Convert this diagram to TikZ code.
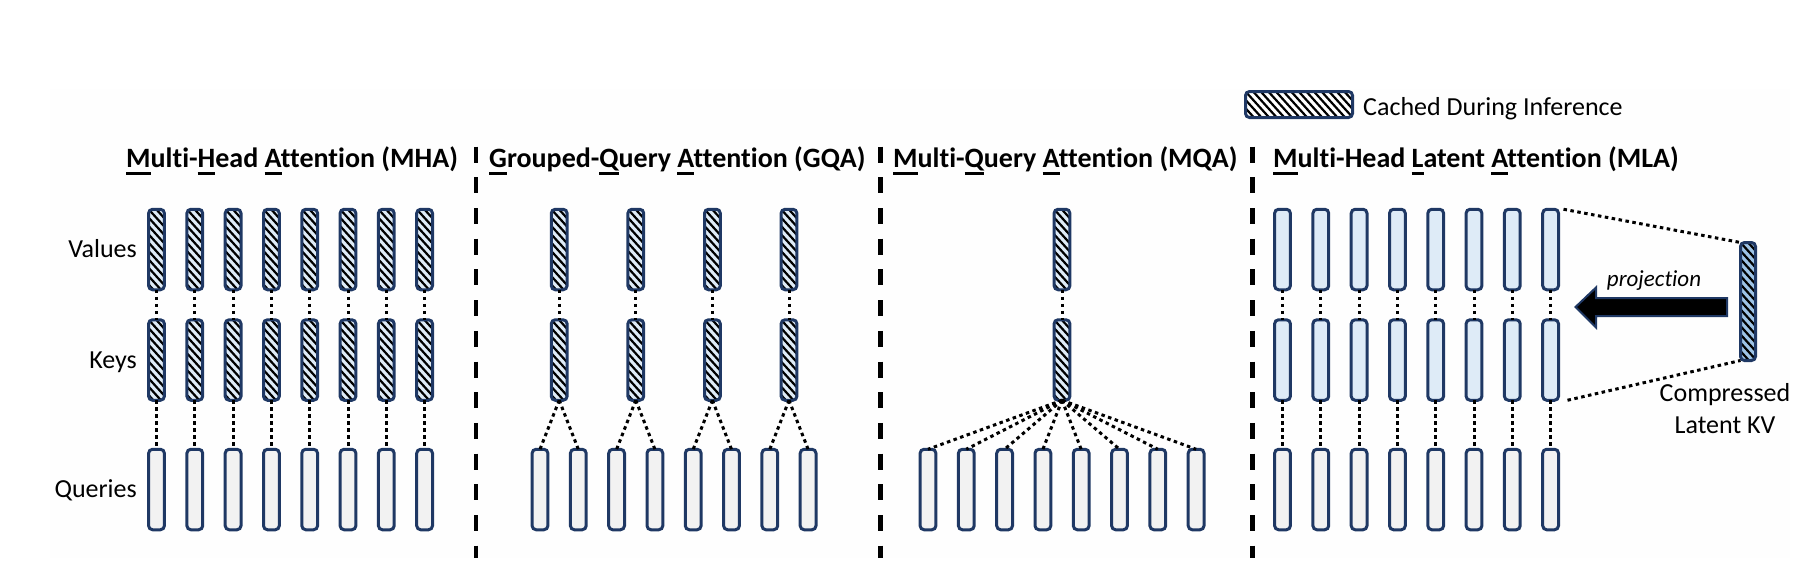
\documentclass[tikz,border=0pt]{standalone}
\usepackage{fontspec}
\setmainfont{Carlito}[Ligatures=NoCommon]
\usetikzlibrary{calc}
\definecolor{navy}{HTML}{1F3864}
\definecolor{kvfill}{HTML}{DEEBF7}
\definecolor{qfill}{HTML}{F2F2F2}
\definecolor{latfill}{HTML}{9DC3E6}
\definecolor{bgfill}{HTML}{FEFEFE}
\newcommand\ulchar[1]{\setbox0\hbox{#1}\rlap{\rule[-7.5pt]{\wd0}{2.3pt}}#1}
\begin{document}
\begin{tikzpicture}[x=1pt,y=-1pt,
  head/.style={draw=navy, line width=3pt, rounded corners=4pt, minimum width=15.8pt, minimum height=80.5pt, inner sep=0pt, outer sep=0pt},
  hatch/.style={path picture={\foreach \k in {-25,...,25}{\draw[black,line width=2.2pt] ([xshift={\k*7.6pt}]path picture bounding box.north west) -- ++(200pt,-220pt);}}},
  kvbox/.style={head, fill=kvfill},
  cached/.style={head, fill=kvfill, hatch},
  qbox/.style={head, fill=qfill},
  conn/.style={line width=3pt, dash pattern=on 3.5pt off 3.5pt},
  sep/.style={line width=4.5pt, dash pattern=on 16pt off 14.7pt},
  lbl/.style={font=\fontsize{26}{30}\selectfont, inner sep=0pt},
  ttl/.style={font=\fontsize{28}{32}\selectfont\bfseries, inner sep=0pt, anchor=base west},
]
\useasboundingbox (0,0) rectangle (1809,582);
\fill[bgfill] (50,89) rectangle (1790,558);

% separators
\draw[sep] (476,146.6) -- (476,558);
\draw[sep] (880.7,146.6) -- (880.7,558);
\draw[sep] (1252.7,146.6) -- (1252.7,558);

% titles
\node[ttl] (tmha) at (126,167) {\ulchar{M}ulti-\ulchar{H}ead \ulchar{A}ttention (MHA)};
\node[ttl] (tgqa) at (489,167) {\ulchar{G}rouped-\ulchar{Q}uery \ulchar{A}ttention (GQA)};
\node[ttl] (tmqa) at (893,167) {\ulchar{M}ulti-\ulchar{Q}uery \ulchar{A}ttention (MQA)};
\node[ttl] (tmla) at (1273,167) {\ulchar{M}ulti-Head \ulchar{L}atent \ulchar{A}ttention (MLA)};

% row labels
\node[lbl, anchor=base east] (lval) at (137,257.5) {Values};
\node[lbl, anchor=base east] (lkey) at (137,368) {Keys};
\node[lbl, anchor=base east] (lqry) at (137,497.5) {Queries};

% legend
\node[head, fill=white, hatch, minimum width=107pt, minimum height=26pt] (leg) at (1299,104.5) {};
\node[lbl, anchor=base west] (legt) at (1363,115) {Cached During Inference};

% MHA
\foreach \i in {1,...,8}{
  \pgfmathsetmacro\xx{156.5+38.3*(\i-1)}
  \node[cached] (mv\i) at (\xx,249.5) {};
  \node[cached] (mk\i) at (\xx,360) {};
  \node[qbox] (mq\i) at (\xx,489.5) {};
  \draw[conn] (mv\i.south) -- (mk\i.north);
  \draw[conn] (mk\i.south) -- (mq\i.north);
}

% GQA
\foreach \i in {1,...,8}{
  \pgfmathsetmacro\xx{540+38.3*(\i-1)}
  \node[qbox] (gq\i) at (\xx,489.5) {};
}
\foreach \j in {1,...,4}{
  \pgfmathsetmacro\xx{559.2+76.6*(\j-1)}
  \pgfmathtruncatemacro\qa{2*\j-1}
  \pgfmathtruncatemacro\qb{2*\j}
  \node[cached] (gv\j) at (\xx,249.5) {};
  \node[cached] (gk\j) at (\xx,360) {};
  \draw[conn] (gv\j.south) -- (gk\j.north);
  \draw[conn] (gk\j.south) -- (gq\qa.north);
  \draw[conn] (gk\j.south) -- (gq\qb.north);
}

% MQA
\node[cached] (qv) at (1062,249.5) {};
\node[cached] (qk) at (1062,360) {};
\draw[conn] (qv.south) -- (qk.north);
\foreach \i in {1,...,8}{
  \pgfmathsetmacro\xx{928+38.3*(\i-1)}
  \node[qbox] (qq\i) at (\xx,489.5) {};
  \draw[conn] (qk.south) -- (qq\i.north);
}

% MLA
\foreach \i in {1,...,8}{
  \pgfmathsetmacro\xx{1282.5+38.3*(\i-1)}
  \node[kvbox] (lv\i) at (\xx,249.5) {};
  \node[kvbox] (lk\i) at (\xx,360) {};
  \node[qbox] (lq\i) at (\xx,489.5) {};
  \draw[conn] (lv\i.south) -- (lk\i.north);
  \draw[conn] (lk\i.south) -- (lq\i.north);
}

% latent
\node[head, fill=latfill, hatch, minimum width=15pt, minimum height=118pt] (lat) at (1748,301.5) {};
\draw[conn] ([xshift=5pt]lv8.north east) -- (lat.north west);
\draw[conn] ([xshift=9pt]lk8.south east) -- (lat.south west);

% projection arrow
\draw[navy, line width=2pt, fill=black] (1727,298) -- (1596,298) -- (1596,287.5) -- (1575.5,307) -- (1596,327.5) -- (1596,316) -- (1727,316) -- cycle;
\node[font=\fontsize{23}{27}\selectfont\itshape, inner sep=0pt, anchor=base] (proj) at (1654,286) {projection};
\node[lbl, anchor=base] (comp1) at (1725,401.5) {Compressed};
\node[lbl, anchor=base] (comp2) at (1725,433) {Latent KV};
\end{tikzpicture}
\end{document}
